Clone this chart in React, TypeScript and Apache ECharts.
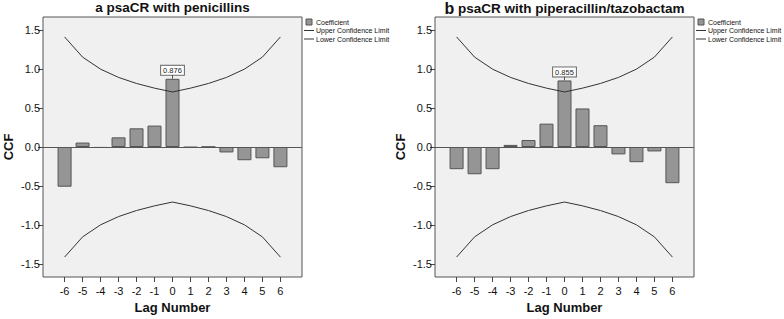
import React, { useEffect, useRef } from "react";
import * as echarts from "echarts";

const lags = [-6, -5, -4, -3, -2, -1, 0, 1, 2, 3, 4, 5, 6];
const coefA = [-0.51, 0.057, -0.012, 0.124, 0.24, 0.275, 0.876, -0.006, 0.003, -0.07, -0.17, -0.145, -0.26];
const coefB = [-0.285, -0.35, -0.285, 0.027, 0.09, 0.3, 0.855, 0.495, 0.28, -0.095, -0.195, -0.057, -0.465];
const upperLimit = [1.414, 1.155, 1.0, 0.894, 0.816, 0.756, 0.707, 0.756, 0.816, 0.894, 1.0, 1.155, 1.414];
const lowerLimit = [-1.414, -1.155, -1.0, -0.894, -0.816, -0.756, -0.707, -0.756, -0.816, -0.894, -1.0, -1.155, -1.414];
const yTicks = [-1.5, -1.0, -0.5, 0.0, 0.5, 1.0, 1.5];
const titles = ["a psaCR with penicillins", "b psaCR with piperacillin/tazobactam"];
const legendNames = ["Coefficient", "Upper Confidence Limit", "Lower Confidence Limit"];

const FONT = "'Liberation Sans', Arial, sans-serif";

export default function App() {
  const ref = useRef<HTMLDivElement>(null);
  useEffect(() => {
    if (!ref.current) return;
    const chart = echarts.init(ref.current, undefined, { renderer: "svg" });
    const panels = [coefA, coefB];
    const offsets = [43, 435];
    const gridW = 259;
    const grid: any[] = [];
    const xAxis: any[] = [];
    const yAxis: any[] = [];
    const series: any[] = [];
    const legend: any[] = [];
    const title: any[] = [];
    panels.forEach((coef, i) => {
      const left = offsets[i];
      grid.push({
        left,
        top: 17,
        width: gridW,
        height: 264,
        show: true,
        backgroundColor: "#f0f0f0",
        borderColor: "#555",
        borderWidth: 1,
      });
      xAxis.push({
        type: "value",
        gridIndex: i,
        position: "bottom",
        min: -7.2,
        max: 7.2,
        splitLine: { show: false },
        axisLine: { show: false, onZero: false },
        axisTick: { show: true, customValues: lags, length: 5, lineStyle: { color: "#444" } },
        axisLabel: {
          customValues: lags,
          margin: 8,
          fontSize: 11,
          color: "#111",
          fontFamily: FONT,
          formatter: (v: number) => String(v),
        },
        name: "Lag Number",
        nameLocation: "middle",
        nameGap: 24,
        nameTextStyle: { fontSize: 13, fontWeight: "bold", color: "#111", fontFamily: FONT },
      });
      yAxis.push({
        type: "value",
        gridIndex: i,
        position: "left",
        min: -1.67,
        max: 1.67,
        splitLine: { show: false },
        axisLine: { show: false, onZero: false },
        axisTick: { show: true, customValues: yTicks, length: 5, lineStyle: { color: "#444" } },
        axisLabel: {
          customValues: yTicks,
          margin: 3,
          fontSize: 11,
          color: "#111",
          fontFamily: FONT,
          formatter: (v: number) => v.toFixed(1),
        },
        name: "CCF",
        nameLocation: "middle",
        nameGap: 28,
        nameTextStyle: { fontSize: 13, fontWeight: "bold", color: "#111", fontFamily: FONT },
      });
      const zeroIdx = lags.indexOf(0);
      series.push({
        type: "bar",
        name: legendNames[0],
        xAxisIndex: i,
        yAxisIndex: i,
        barWidth: 14,
        itemStyle: { color: "#959595", borderColor: "#555", borderWidth: 1 },
        data: lags.map((l, k) => {
          const item: any = { value: [l, coef[k]] };
          if (k === zeroIdx) {
            item.label = {
              show: true,
              position: "top",
              distance: 4,
              formatter: coef[k].toFixed(3),
              fontSize: 7.5,
              fontFamily: FONT,
              color: "#222",
              backgroundColor: "#fff",
              borderColor: "#666",
              borderWidth: 1,
              padding: [1, 2, 0, 2],
            };
          }
          return item;
        }),
        markLine: {
          silent: true,
          symbol: "none",
          label: { show: false },
          lineStyle: { color: "#555", width: 1, type: "solid" },
          data: [
            { yAxis: 0 },
            [
              { coord: [0, coef[zeroIdx]] },
              { coord: [0, coef[zeroIdx] + 0.05] },
            ],
          ],
        },
      });
      series.push({
        type: "line",
        name: legendNames[1],
        xAxisIndex: i,
        yAxisIndex: i,
        symbol: "none",
        lineStyle: { color: "#333", width: 1 },
        itemStyle: { color: "#333" },
        data: lags.map((l, k) => [l, upperLimit[k]]),
      });
      series.push({
        type: "line",
        name: legendNames[2],
        xAxisIndex: i,
        yAxisIndex: i,
        symbol: "none",
        lineStyle: { color: "#333", width: 1 },
        itemStyle: { color: "#333" },
        data: lags.map((l, k) => [l, lowerLimit[k]]),
      });
      const lineIcon = "path://M0,0h10v1h-10z";
      legend.push({
        left: left + gridW + 2,
        top: 18.5,
        orient: "vertical",
        padding: 0,
        itemWidth: 10,
        itemHeight: 6,
        itemGap: 1.5,
        selectedMode: false,
        textStyle: { fontSize: 7, color: "#111", fontFamily: FONT, padding: [0, 0, 0, -3] },
        data: [
          { name: legendNames[0], icon: "path://M0,0h6v6h-6z", itemStyle: { color: "#959595", borderColor: "#555", borderWidth: 1 } },
          { name: legendNames[1], icon: lineIcon, itemStyle: { color: "#333", borderWidth: 0 } },
          { name: legendNames[2], icon: lineIcon, itemStyle: { color: "#333", borderWidth: 0 } },
        ],
      });
      const t = titles[i];
      title.push({
        text: i === 1 ? "{b|b}" + t.slice(1) : t,
        left: left + gridW / 2,
        top: 0,
        padding: 0,
        textAlign: "center",
        textStyle: {
          fontSize: 13.5,
          fontWeight: "bold",
          color: "#111",
          fontFamily: FONT,
          rich: { b: { fontSize: 16, fontWeight: "bold", color: "#111", fontFamily: FONT } },
        },
      });
    });
    chart.setOption({
      animation: false,
      backgroundColor: "#fff",
      title,
      legend,
      grid,
      xAxis,
      yAxis,
      series,
    });
    return () => chart.dispose();
  }, []);
  return (
    <div
      ref={ref}
      style={{ position: "fixed", left: 0, top: 0, width: 784, height: 319 }}
    />
  );
}
